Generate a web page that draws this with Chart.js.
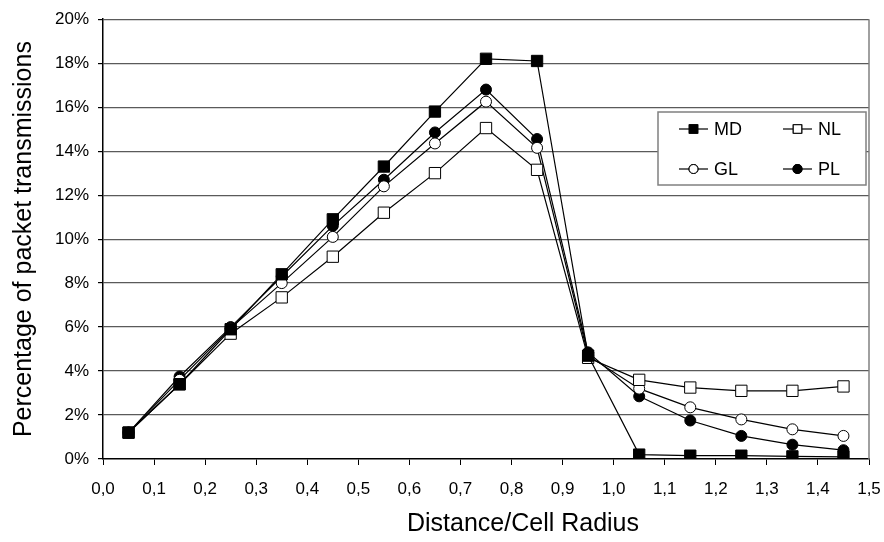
<!DOCTYPE html>
<html>
<head>
<meta charset="utf-8">
<script src="https://cdn.jsdelivr.net/npm/chart.js@4.4.0/dist/chart.umd.min.js"></script>
<style>
  html, body { margin: 0; padding: 0; background: #fff; }
</style>
</head>
<body>
<canvas id="chart" width="884" height="542"></canvas>
<script>
// x positions (distance / cell radius, bin centres)
const distances = [0.05, 0.15, 0.25, 0.35, 0.45, 0.55, 0.65, 0.75, 0.85, 0.95, 1.05, 1.15, 1.25, 1.35, 1.45];

// percentage of packet transmissions per scheme
const md = [1.2, 3.4, 5.9, 8.4, 10.9, 13.3, 15.8, 18.2, 18.1, 4.7, 0.2, 0.15, 0.15, 0.12, 0.1];
const nl = [1.2, 3.4, 5.7, 7.35, 9.2, 11.2, 13.0, 15.05, 13.15, 4.6, 3.6, 3.25, 3.1, 3.1, 3.3];
const gl = [1.2, 3.6, 5.95, 8.0, 10.1, 12.4, 14.35, 16.25, 14.15, 4.7, 3.2, 2.35, 1.8, 1.35, 1.05];
const pl = [1.2, 3.75, 6.0, 8.3, 10.6, 12.7, 14.85, 16.8, 14.55, 4.85, 2.85, 1.75, 1.05, 0.65, 0.4];

const xTickLabels = ['0,0', '0,1', '0,2', '0,3', '0,4', '0,5', '0,6', '0,7', '0,8', '0,9', '1,0', '1,1', '1,2', '1,3', '1,4', '1,5'];

const FONT = "'Liberation Sans', Arial, sans-serif";

function toPoints(values) {
    return values.map((v, i) => ({ x: distances[i], y: v }));
}

function series(label, values, style, fill) {
    return {
        label: label,
        data: toPoints(values),
        borderColor: '#000',
        borderWidth: 1.2,
        tension: 0,
        pointStyle: style,
        pointRadius: style === 'rect' ? 8 : 5.5,
        pointBorderColor: '#000',
        pointBorderWidth: 1,
        pointBackgroundColor: fill
    };
}

// legend box, right border and x title
const extras = {
    id: 'extras',
    afterDraw(chart) {
        const ctx = chart.ctx;
        const a = chart.chartArea;
        ctx.save();

        ctx.strokeStyle = '#808080';
        ctx.lineWidth = 1.5;
        ctx.beginPath();
        ctx.moveTo(a.right, a.top);
        ctx.lineTo(a.right, a.bottom);
        ctx.stroke();

        // legend
        const bx = 658, by = 112, bw = 208, bh = 73;
        ctx.fillStyle = '#fff';
        ctx.fillRect(bx, by, bw, bh);
        ctx.strokeStyle = '#808080';
        ctx.lineWidth = 1.5;
        ctx.strokeRect(bx, by, bw, bh);

        const entries = [
            { ds: 0, x: 679, y: 129 },
            { ds: 1, x: 783, y: 129 },
            { ds: 2, x: 679, y: 169 },
            { ds: 3, x: 783, y: 169 }
        ];
        ctx.font = '18px ' + FONT;
        ctx.textBaseline = 'middle';
        ctx.textAlign = 'left';
        entries.forEach(e => {
            const ds = chart.data.datasets[e.ds];
            ctx.strokeStyle = '#000';
            ctx.lineWidth = 1.2;
            ctx.beginPath();
            ctx.moveTo(e.x, e.y);
            ctx.lineTo(e.x + 29, e.y);
            ctx.stroke();
            Chart.helpers.drawPoint(ctx, {
                pointStyle: ds.pointStyle,
                radius: ds.pointStyle === 'rect' ? 6 : 4.5,
                borderWidth: 1
            }, e.x + 14.5, e.y);
            ctx.fillStyle = ds.pointBackgroundColor;
            ctx.strokeStyle = '#000';
            ctx.lineWidth = 1;
            ctx.fill();
            ctx.stroke();
            ctx.fillStyle = '#000';
            ctx.fillText(ds.label, e.x + 35, e.y + 1);
        });

        // x axis title
        ctx.font = '25px ' + FONT;
        ctx.textAlign = 'center';
        ctx.fillStyle = '#000';
        ctx.fillText('Distance/Cell Radius', 523, 524);
        ctx.restore();
    }
};

const ctx = document.getElementById('chart').getContext('2d');
new Chart(ctx, {
    type: 'line',
    data: {
        datasets: [
            series('MD', md, 'rect', '#000'),
            series('NL', nl, 'rect', '#fff'),
            series('GL', gl, 'circle', '#fff'),
            series('PL', pl, 'circle', '#000')
        ]
    },
    options: {
        responsive: false,
        devicePixelRatio: 1,
        animation: false,
        layout: {
            padding: { top: 13, right: 15, left: 0, bottom: 0 }
        },
        plugins: {
            legend: { display: false },
            tooltip: { enabled: false }
        },
        scales: {
            x: {
                type: 'linear',
                min: 0,
                max: 1.5,
                afterFit: scale => {
                    scale.height = 83;
                    scale.paddingLeft = 0;
                    scale.paddingRight = 0;
                },
                afterBuildTicks: scale => {
                    scale.ticks = xTickLabels.map((t, i) => ({ value: i / 10 }));
                },
                ticks: {
                    autoSkip: false,
                    maxRotation: 0,
                    padding: 14,
                    color: '#000',
                    font: { family: FONT, size: 17 },
                    callback: (value, index) => xTickLabels[index]
                },
                grid: {
                    drawOnChartArea: false,
                    drawTicks: true,
                    tickLength: 6,
                    tickColor: '#000',
                    color: '#000'
                },
                border: { color: '#000', width: 1.5 }
            },
            y: {
                min: 0,
                max: 20,
                afterFit: scale => { scale.width = 103; },
                ticks: {
                    stepSize: 2,
                    padding: 9,
                    color: '#000',
                    font: { family: FONT, size: 17 },
                    callback: v => v + '%'
                },
                grid: {
                    color: ctx => ctx.tick && ctx.tick.value === 0 ? 'rgba(0,0,0,0)' : '#5a5a5a',
                    lineWidth: 1.2,
                    tickLength: 5,
                    tickColor: '#000'
                },
                border: { color: '#000', width: 1.5 },
                title: {
                    display: true,
                    text: 'Percentage of packet transmissions',
                    color: '#000',
                    font: { family: FONT, size: 25 },
                    padding: { top: 9, bottom: 0 }
                }
            }
        }
    },
    plugins: [extras]
});
</script>
</body>
</html>
